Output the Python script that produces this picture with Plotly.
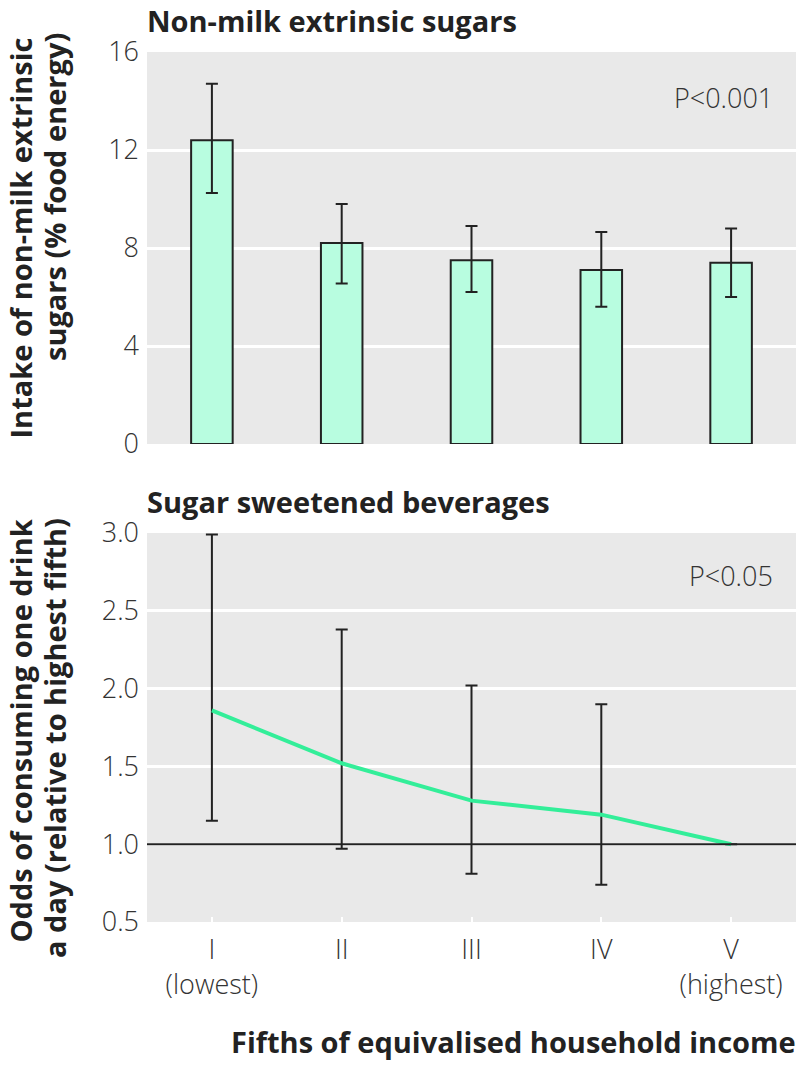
import plotly.graph_objects as go
from plotly.subplots import make_subplots

categories = ["I", "II", "III", "IV", "V"]
tick_labels = ["I<br>(lowest)", "II", "III", "IV", "V<br>(highest)"]

# Top panel: non-milk extrinsic sugars (% food energy)
nmes_mean = [12.4, 8.2, 7.5, 7.1, 7.4]
nmes_upper = [14.7, 9.8, 8.9, 8.65, 8.8]
nmes_lower = [10.25, 6.55, 6.2, 5.6, 6.0]

# Bottom panel: odds ratio of consuming one sugar sweetened drink a day
or_mean = [1.86, 1.52, 1.28, 1.19, 1.0]
or_upper = [2.99, 2.38, 2.02, 1.90, None]
or_lower = [1.15, 0.97, 0.81, 0.74, None]

FONT = "Open Sans"
DARK = "#222222"
TXT = "#333333"

fig = make_subplots(rows=2, cols=1, vertical_spacing=0.0)

err_up1 = [u - m for u, m in zip(nmes_upper, nmes_mean)]
err_dn1 = [m - l for m, l in zip(nmes_mean, nmes_lower)]
fig.add_trace(go.Bar(
    x=categories, y=nmes_mean, width=0.32,
    marker=dict(color="#b8fde0", line=dict(color=DARK, width=2)),
    error_y=dict(type="data", array=err_up1, arrayminus=err_dn1, symmetric=False,
                 color=DARK, thickness=2, width=6),
    showlegend=False, hoverinfo="skip"), row=1, col=1)

err_up2 = [(u - m) if u is not None else 0 for u, m in zip(or_upper, or_mean)]
err_dn2 = [(m - l) if l is not None else 0 for m, l in zip(or_mean, or_lower)]
fig.add_trace(go.Scatter(
    x=categories, y=or_mean, mode="lines",
    line=dict(color="#33ee99", width=4),
    error_y=dict(type="data", array=err_up2, arrayminus=err_dn2, symmetric=False,
                 color=DARK, thickness=2, width=6, visible=True),
    showlegend=False, hoverinfo="skip"), row=2, col=1)

fig.add_hline(y=1.0, line=dict(color=DARK, width=2), row=2, col=1, layer="above")

W, H = 802, 1068
L, R, T, B = 147, 6, 52, 146

tickfont = dict(family=FONT, size=27, color=TXT, weight=300)
fig.update_layout(
    width=W, height=H,
    margin=dict(l=L, r=R, t=T, b=B),
    paper_bgcolor="white", plot_bgcolor="#e9e9e9",
    font=dict(family=FONT, color=TXT),
)
fig.update_xaxes(type="category", range=[-0.5, 4.5], showgrid=False, zeroline=False,
                 showline=False, ticks="", showticklabels=False, row=1, col=1)
fig.update_xaxes(type="category", range=[-0.5, 4.5], showgrid=False, zeroline=False,
                 showline=False, ticks="inside", tickcolor="white", ticklen=5, tickwidth=2,
                 tickvals=categories, ticktext=tick_labels, tickfont=tickfont,
                 ticklabelstandoff=9, row=2, col=1)
fig.update_yaxes(range=[0, 16], tickvals=[0, 4, 8, 12, 16], gridcolor="white", gridwidth=3,
                 zeroline=False, showline=False, ticks="", tickfont=tickfont,
                 ticklabelstandoff=7, row=1, col=1)
fig.update_yaxes(range=[0.5, 3.0], tickvals=[0.5, 1.0, 1.5, 2.0, 2.5, 3.0],
                 ticktext=["0.5", "1.0", "1.5", "2.0", "2.5", "3.0"],
                 gridcolor="white", gridwidth=3,
                 zeroline=False, showline=False, ticks="", tickfont=tickfont,
                 ticklabelstandoff=7, row=2, col=1)
fig.update_layout(
    yaxis=dict(domain=[0.5494, 1.0]),
    yaxis2=dict(domain=[0.0, 0.4471]),
)


def py(p):
    return (H - B - p) / (H - T - B)


def px(p):
    return (p - L) / (W - L - R)


bold = dict(family=FONT, size=29, color="#222222", weight=700)

fig.add_annotation(text="<b>Non-milk extrinsic sugars</b>", x=px(145), xref="paper", xanchor="left",
                   y=py(21), yref="paper", yanchor="middle", showarrow=False, font=bold)
fig.add_annotation(text="<b>Sugar sweetened beverages</b>", x=px(145), xref="paper", xanchor="left",
                   y=py(502), yref="paper", yanchor="middle", showarrow=False, font=bold)

ytitle_lines = [
    ("<b>Intake of non-milk extrinsic</b>", 20, 36),
    ("<b>sugars (% food energy)</b>", 54, 31),
    ("<b>Odds of consuming one drink</b>", 20, 518),
    ("<b>a day (relative to highest fifth)</b>", 54, 516),
]
for txt, xc, ytop in ytitle_lines:
    fig.add_annotation(text=txt, x=px(xc), xref="paper", y=py(ytop), yref="paper",
                       textangle=-90, xanchor="center", yanchor="top", showarrow=False,
                       font=bold)

fig.add_annotation(text="<b>Fifths of equivalised household income</b>",
                   x=px(798), xref="paper", xanchor="right", y=py(1041), yref="paper",
                   yanchor="middle", showarrow=False, font=bold)
fig.add_annotation(text="P&lt;0.001", x=px(775), xref="paper", xanchor="right",
                   y=py(97), yref="paper", yanchor="middle", showarrow=False,
                   font=tickfont)
fig.add_annotation(text="P&lt;0.05", x=px(775), xref="paper", xanchor="right",
                   y=py(575), yref="paper", yanchor="middle", showarrow=False,
                   font=tickfont)

fig.write_html("out.html", config={"displayModeBar": False},
               post_script="document.body.style.margin='0';")
